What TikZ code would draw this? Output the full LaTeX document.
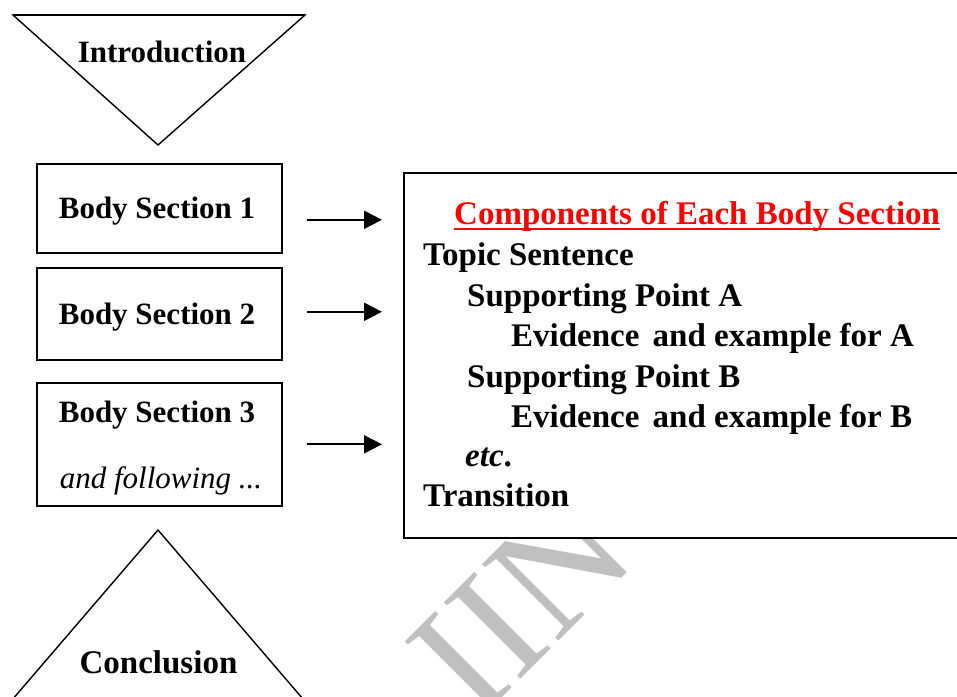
\documentclass[tikz,border=0pt]{standalone}
\usepackage{fontspec}
\setmainfont{Liberation Serif}
\usetikzlibrary{arrows.meta}
\definecolor{wmgray}{RGB}{192,192,192}
\definecolor{titlered}{RGB}{255,0,0}
\tikzset{
  boxline/.style={draw=black, line width=1.6pt},
  bodybox/.style={boxline, fill=white, inner sep=0pt, minimum width=245pt, anchor=north west},
  lbl/.style={font=\fontsize{31}{36}\selectfont\bfseries, inner sep=0pt, anchor=base},
  boxtxt/.style={font=\fontsize{33}{38}\selectfont\bfseries, inner sep=0pt, anchor=base west},
  arr/.style={line width=2pt, -{Triangle[length=18pt,width=18pt]}},
  triline/.style={line width=1.4pt, line join=miter},
}
\begin{document}
\begin{tikzpicture}[x=1pt,y=-1pt]
\useasboundingbox (0,0) rectangle (957,696);
\clip (0,0) rectangle (957,696);
\fill[white] (0,0) rectangle (957,696);

% watermark
\node[font=\fontsize{165}{165}\selectfont, text=wmgray, rotate=45, anchor=base west, inner sep=0pt] (wm) at (477.7,722.3) {IIN};

% introduction triangle
\coordinate (i1) at (13,15);
\coordinate (i2) at (305,15);
\coordinate (i3) at (158,145);
\draw[triline, fill=white] (i1) -- (i2) -- (i3) -- cycle;
\draw[line width=2.6pt] (i1) -- (i2);
\node[lbl] (intro) at (162,62.5) {Introduction};

% body boxes
\node[bodybox, minimum height=89pt] (b1) at (36,163) {};
\node[bodybox, minimum height=92pt] (b2) at (36,267) {};
\node[bodybox, minimum height=123pt] (b3) at (36,382) {};
\node[lbl] (b1t) at (157,218) {Body Section 1};
\node[lbl] (b2t) at (157,324) {Body Section 2};
\node[lbl] (b3t) at (157,422) {Body Section 3};
\node[lbl, font=\fontsize{31}{36}\selectfont\itshape] (b3f) at (161,488) {and following ...};

% components box
\node[draw=black, line width=2pt, fill=white, anchor=north west, minimum width=570pt, minimum height=365pt, inner sep=0pt] (big) at (403,172) {};
\node[boxtxt, text=titlered] (title) at (454,224) {Components of Each Body Section};
\draw[titlered, line width=2pt] ([yshift=-5pt]title.base west) -- ([yshift=-5pt]title.base east);
\node[boxtxt] (t1) at (423,265) {Topic Sentence};
\node[boxtxt] (t2) at (467,306) {Supporting Point A};
\node[boxtxt] (t3) at (511,346) {Evidence\hspace{0.15em} and example for A};
\node[boxtxt] (t4) at (467,387) {Supporting Point B};
\node[boxtxt] (t5) at (511,427) {Evidence\hspace{0.15em} and example for B};
\node[boxtxt] (t6) at (465,466) {\itshape etc\upshape.};
\node[boxtxt] (t7) at (423,506) {Transition};

% arrows
\path (b1.east) ++(0,11.5) coordinate (a1);
\path (b2.east) ++(0,-2) coordinate (a2);
\path (b3.east) ++(0,0) coordinate (a3);
\draw[arr, shorten <=24pt, shorten >=21pt] (a1) -- (a1 -| big.west);
\draw[arr, shorten <=24pt, shorten >=21pt] (a2) -- (a2 -| big.west);
\draw[arr, shorten <=24pt, shorten >=21pt] (a3) -- (a3 -| big.west);

% conclusion triangle
\coordinate (c1) at (-5.2,720);
\coordinate (c2) at (158,530);
\coordinate (c3) at (321,720);
\draw[triline] (c1) -- (c2) -- (c3);
\node[lbl, font=\fontsize{33}{38}\selectfont\bfseries] (concl) at (158.5,673) {Conclusion};
\end{tikzpicture}
\end{document}
